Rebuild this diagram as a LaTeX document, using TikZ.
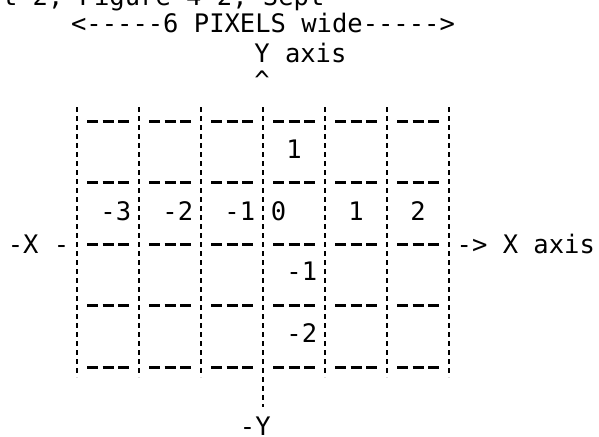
\documentclass[tikz,border=0pt]{standalone}
\usepackage{fontspec}
\newfontfamily\tw{DejaVu Sans Mono}
\tikzset{
  tt/.style={inner sep=0pt, outer sep=0pt, font=\tw\fontsize{25.5}{25.5}\selectfont},
  vbar/.style={line width=2pt, dash pattern=on 5pt off 4pt},
  hbar/.style={line width=3pt, dash pattern=on 11pt off 4.5pt},
}
\begin{document}
\begin{tikzpicture}[x=1pt,y=-1pt]
\useasboundingbox (0,0) rectangle (599,436);
% grid coordinates
\foreach \i in {0,...,6}{
  \coordinate (vt\i) at ({77+62*\i},107);
  \coordinate (vb\i) at ({77+62*\i},377);
}
\coordinate (ybot) at (263,407);
% vertical dashed bars
\foreach \i in {0,...,6}{ \draw[vbar] (vt\i) -- (vb\i); }
\draw[vbar] (vb3) -- (ybot);
% horizontal dashed segments
\foreach \j/\yy in {0/121,1/182,2/244,3/305,4/367}{
  \foreach \i in {0,...,5}{
    \coordinate (hl\i-\j) at ({77+62*\i+10},\yy);
    \coordinate (hr\i-\j) at ({77+62*\i+52},\yy);
    \draw[hbar] (hl\i-\j) -- (hr\i-\j);
  }
}
% texts
\node[tt, anchor=base west] (hdr) at (2,6) {t-2, Figure 4-2, Sept};
\node[tt, anchor=base] (wlab) at (263,33) {<-----6 PIXELS wide----->};
\node[tt, anchor=base west] (ylab) at (254.3,63) {Y axis};
\node[tt, anchor=base] (caret) at (262,89) {\char`\^};
\node[tt, anchor=base east] (xneg) at (69.3,253) {-X -};
\node[tt, anchor=base west] (xlab) at (456.7,253) {-> X axis};
\node[tt, anchor=base east] (yneg) at (270.7,435) {-Y};
% cell labels
\node[tt, anchor=base] (p1) at (294,158) {1};
\node[tt, anchor=base] (m3) at (115.75,220) {-3};
\node[tt, anchor=base] (m2) at (177.75,220) {-2};
\node[tt, anchor=base] (m1) at (239.75,220) {-1};
\node[tt, anchor=base] (z0) at (278.5,220) {0};
\node[tt, anchor=base] (x1) at (356,220) {1};
\node[tt, anchor=base] (x2) at (418,220) {2};
\node[tt, anchor=base] (n1) at (301.75,280) {-1};
\node[tt, anchor=base] (n2) at (301.75,342) {-2};
\end{tikzpicture}
\end{document}
